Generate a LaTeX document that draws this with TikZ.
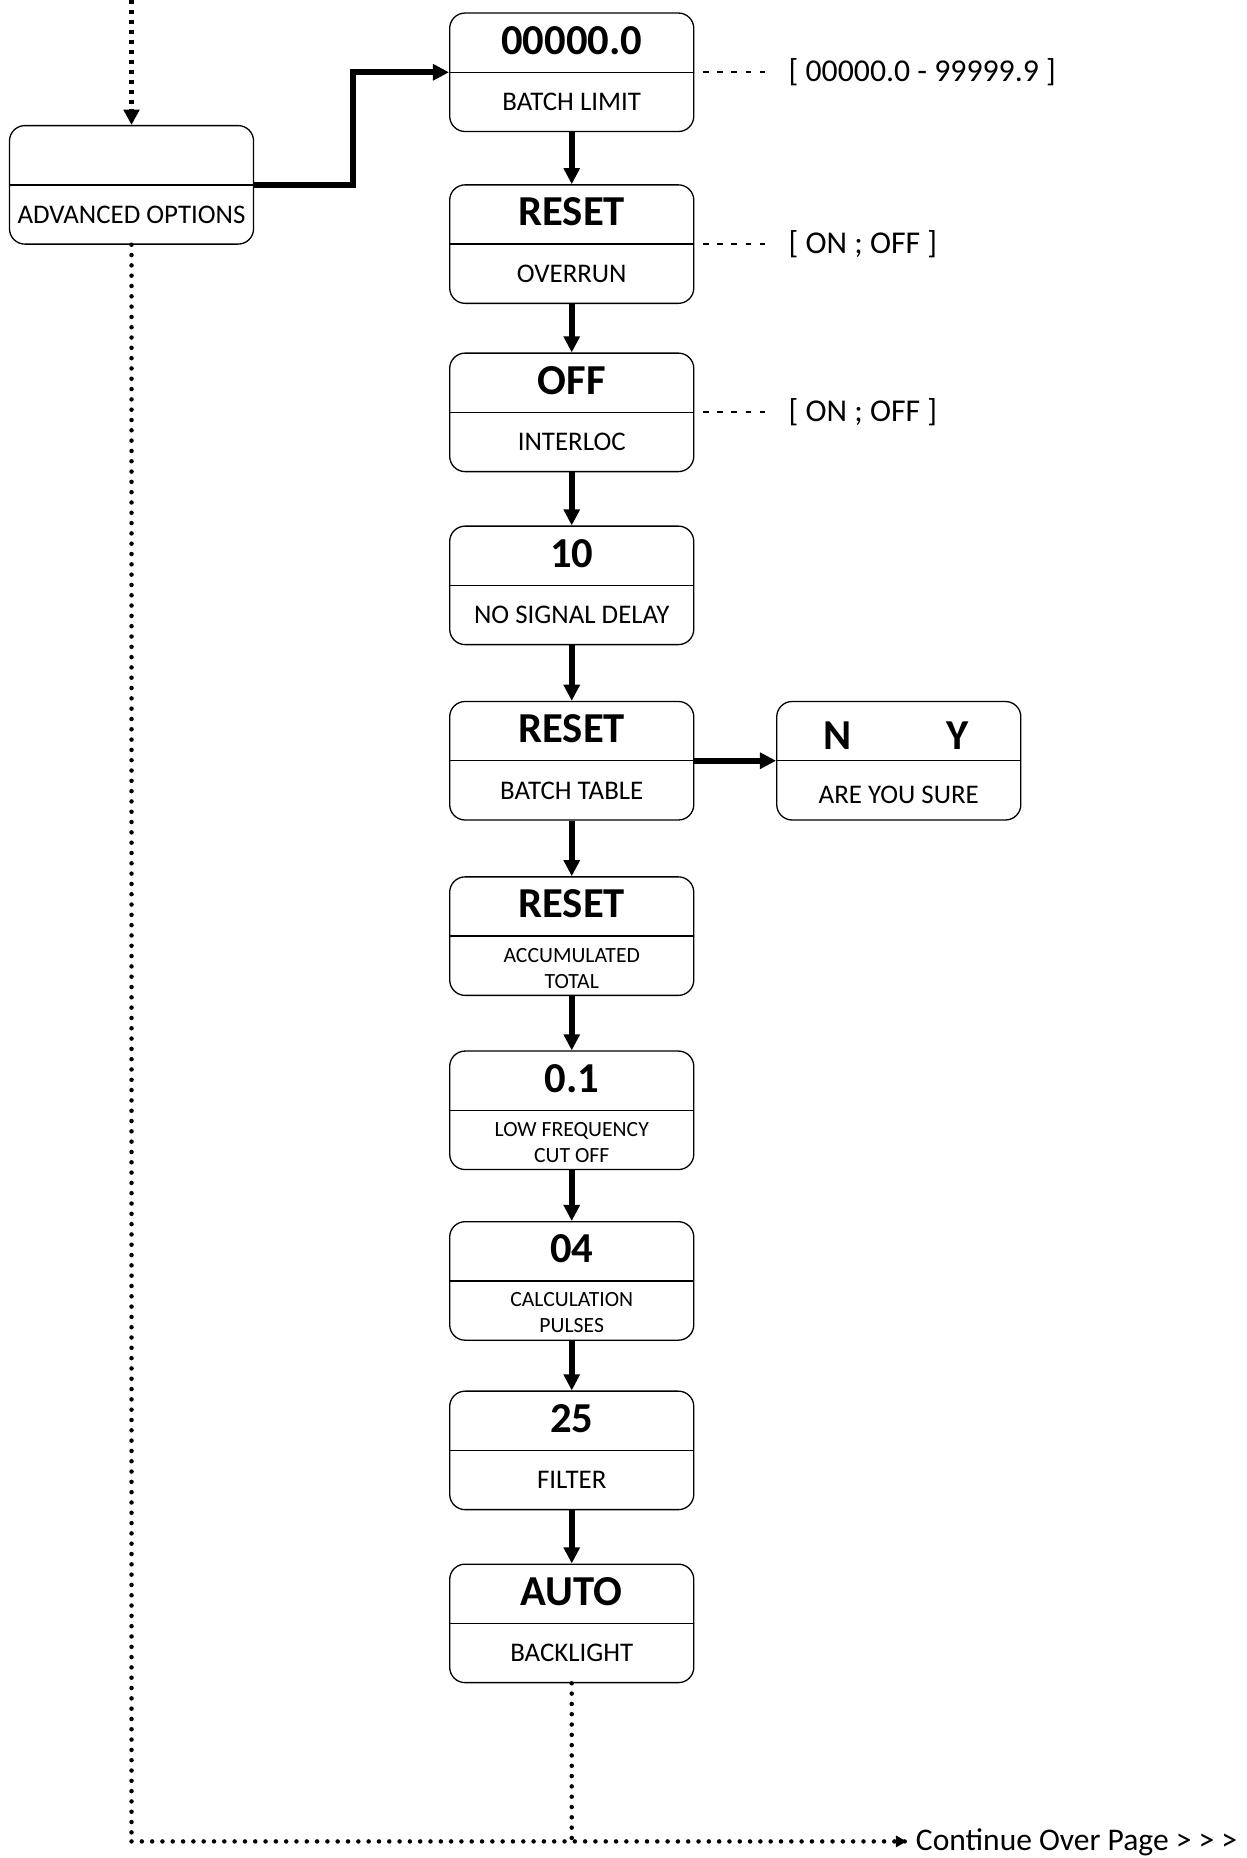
\documentclass[tikz,border=0pt]{standalone}
\usepackage{fontspec}
\setmainfont{Carlito}
\usetikzlibrary{arrows.meta,calc}
\newcommand\menubox[5]{%
  \node[box] (#1) at (482.5,#2) {};
  \draw[divider] (#1.west) -- (#1.east);
  \node[val] (#1v) at (482.5,#2-27) {#3};
  \node[#5] (#1l) at (482.5,#2+25) {#4};
}
\begin{document}
\begin{tikzpicture}[x=0.5pt,y=-0.5pt,
  box/.style={draw, line width=0.55pt, rounded corners=6.5pt, minimum width=103pt, minimum height=50pt, inner sep=0pt},
  divider/.style={line width=0.55pt},
  val/.style={font=\fontsize{18}{20}\selectfont\bfseries, inner sep=0pt},
  lab/.style={font=\fontsize{11.35}{13}\selectfont, inner sep=0pt},
  lab2/.style={font=\fontsize{9.15}{11}\selectfont, inner sep=0pt, align=center, yshift=-1pt},
  rng/.style={font=\fontsize{13.4}{15}\selectfont, inner sep=0pt, anchor=west, outer xsep=9.8pt},
  flow/.style={line width=2.6pt, -{Triangle[length=6.8pt,width=6.6pt]}},
  dashlink/.style={line width=0.8pt, dash pattern=on 2.4pt off 3.6pt, dash phase=2.4pt},
  topdot/.style={line width=2.2pt, dash pattern=on 1.8pt off 2.4pt, -{Triangle[length=6.5pt,width=6.5pt]}},
  vdot/.style={line width=1.9pt, line cap=round, dash pattern=on 0pt off 4.35pt},
  hdot/.style={line width=1.9pt, line cap=round, dash pattern=on 0pt off 4.35pt},
  contst/.style={font=\fontsize{13.3}{15}\selectfont, inner sep=0pt, outer xsep=4pt, anchor=base west}
]
\useasboundingbox (0,0) rectangle (1052,1568);

% advanced options box
\node[box] (adv) at (111,156) {};
\draw[divider] (adv.west) -- (adv.east);
\node[lab] (advl) at (111,181) {ADVANCED OPTIONS};

% main column
\menubox{b1}{61}{00000.0}{BATCH LIMIT}{lab}
\menubox{b2}{206}{RESET}{OVERRUN}{lab}
\menubox{b3}{348}{OFF}{INTERLOC}{lab}
\menubox{b4}{494}{10}{NO SIGNAL DELAY}{lab}
\menubox{b5}{642}{RESET}{BATCH TABLE}{lab}
\menubox{b6}{790}{RESET}{ACCUMULATED\\TOTAL}{lab2}
\menubox{b7}{937}{0.1}{LOW FREQUENCY\\CUT OFF}{lab2}
\menubox{b8}{1081}{04}{CALCULATION\\PULSES}{lab2}
\menubox{b9}{1224}{25}{FILTER}{lab}
\menubox{b10}{1370}{AUTO}{BACKLIGHT}{lab}

% are you sure box
\node[box] (sure) at (758.5,642) {};
\draw[divider] (sure.west) -- (sure.east);
\node[val] (sn) at (707,621) {N};
\node[val] (sy) at (808,621) {Y};
\node[lab] (surel) at (758.5,671) {ARE YOU SURE};

% range labels
\node[rng] (r1) at (646,61) {[ 00000.0 - 99999.9 ]};
\node[rng] (r2) at (646,206) {[ ON ; OFF ]};
\node[rng] (r3) at (646,348) {[ ON ; OFF ]};
\draw[dashlink] (b1.east) -- (r1.west);
\draw[dashlink] (b2.east) -- (r2.west);
\draw[dashlink] (b3.east) -- (r3.west);

% flow arrows
\foreach \a/\b in {b1/b2,b2/b3,b3/b4,b4/b5,b5/b6,b6/b7,b7/b8,b8/b9,b9/b10}
  \draw[flow] (\a) -- (\b);
\draw[flow] (b5) -- (sure);
\draw[flow] (adv.east) -- ++(83,0) |- (b1.west);

% dotted connectors
\coordinate (topin) at (111,0);
\draw[topdot] (topin) -- (adv.north);
\coordinate (corner) at (111,1554);
\coordinate (junc) at (482.5,1554);
\node[contst] (cont) at (765,1561.5) {Continue Over Page > > >};
\draw[vdot] (adv.south) -- (corner);
\draw[vdot] (b10.south) -- (junc);
\draw[hdot] (corner) -- (cont.west |- corner);
\draw[-{Triangle[length=4.5pt,width=4.8pt]}, line width=1pt] ($(cont.west |- corner)+(-2,0)$) -- (cont.west |- corner);
\end{tikzpicture}
\end{document}
